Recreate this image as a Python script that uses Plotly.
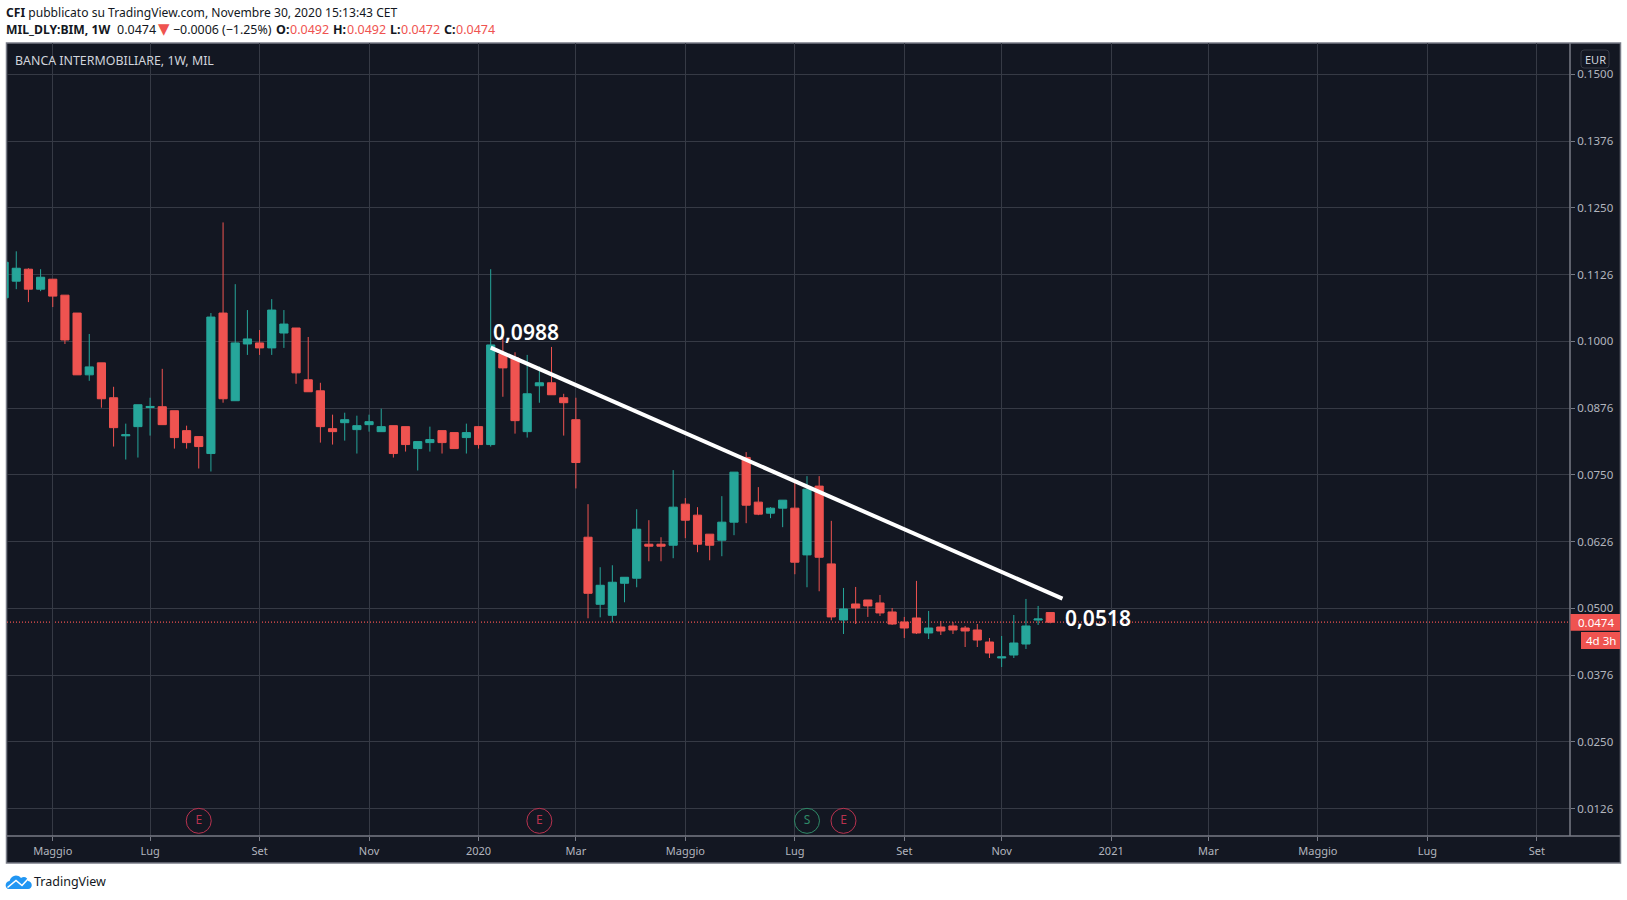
import pandas as pd
import plotly.graph_objects as go

# Weekly OHLC for Banca Intermobiliare (MIL)
DATES = pd.date_range("2019-04-08", periods=87, freq="7D")
OPEN = [.10815, .11126, .1135, .10976, .11163, .10864, .10529, .09372, .09596, .08943,
        .0823, .08402, .0876, .08775, .087, .08327, .08215, .07898, .10529, .08887,
        .0995, .09969, .09876, .10155, .10249, .09279, .09073, .08364, .08476, .08346,
        .08439, .08308, .0842, .08402, .07991, .08103, .08327, .0829, .08197, .08402,
        .08066, .09764, .09689, .08308, .09167, .09223, .08943, .08532, .06331, .05075,
        .04869, .05469, .05563, .0620, .0620, .06181, .0695, .06744, .06388, .06275,
        .06613, .07825, .06988, .06781, .06875, .06875, .06, .07288, .05831, .04781,
        .05081, .05156, .051, .04931, .04744, .04819, .04538, .0465, .04669, .04631,
        .04594, .04369, .0407, .04125, .04331, .0478, .0492]
HIGH = [.1148, .11685, .11368, .1135, .11163, .10864, .10529, .10137, .09596, .09148,
        .08458, .08812, .08943, .09484, .087, .0842, .08215, .10529, .12226, .1107,
        .10585, .10211, .1079, .10585, .10249, .10081, .09223, .08626, .08663, .08607,
        .08626, .08738, .0842, .08402, .08122, .08402, .08327, .0829, .08458, .08402,
        .1135, .10062, .09795, .09745, .09527, .09894, .09017, .08943, .0695, .05769,
        .05806, .05581, .06856, .0665, .06331, .07588, .07063, .06894, .06388, .071,
        .0755, .07925, .07269, .06894, .07025, .07356, .07475, .07475, .06638, .05381,
        .054, .05156, .0525, .05006, .04838, .05513, .0495, .04763, .04744, .04669,
        .04706, .04444, .04481, .04875, .05175, .05044, .0492]
LOW = [.10815, .10976, .10734, .10939, .10641, .0995, .09372, .0926, .08756, .08029,
       .07786, .07823, .08234, .08439, .07991, .07991, .07618, .07562, .0885, .08887,
       .09745, .09745, .09745, .09876, .09204, .09055, .08103, .08066, .0814, .07898,
       .08308, .08308, .07823, .07935, .07581, .07935, .07898, .07991, .07898, .07991,
       .08029, .08961, .08271, .08197, .0885, .08999, .08234, .07245, .04813, .04831,
       .04738, .05113, .05394, .05881, .05881, .05938, .06313, .0605, .059, .05975,
       .06369, .06594, .06744, .06688, .06519, .05638, .05394, .05319, .04775, .04519,
       .04706, .04838, .04856, .04688, .04444, .04519, .04425, .045, .04519, .04275,
       .04275, .04069, .039, .04069, .04238, .04688, .0472]
CLOSE = [.1148, .11368, .10976, .112, .10846, .10025, .09372, .09521, .08924, .08383,
         .0825, .08812, .0878, .08439, .08197, .08103, .08029, .10454, .08924, .09969,
         .10044, .09876, .10585, .10323, .09409, .09055, .08402, .08308, .08532, .0842,
         .08495, .08402, .07898, .08066, .08122, .08159, .08103, .07991, .0829, .08066,
         .09932, .09502, .08514, .09017, .09223, .08999, .0885, .0773, .05281, .05431,
         .05488, .05581, .06481, .06163, .06163, .06894, .0665, .062, .06181, .06613,
         .0755, .06931, .06763, .06875, .07025, .05863, .07231, .05956, .04838, .04988,
         .05006, .05044, .04913, .04706, .04631, .04538, .04631, .04575, .04594, .04575,
         .04406, .04163, .0409, .0435, .04669, .0480, .0474]

# Trend line, with the prices stated by its labels
TREND_DATES = ["2020-01-13", "2020-12-07"]
TREND_PRICES = [0.0988, 0.0518]
TREND_TEXT = ["0,0988", "0,0518"]

# Earnings and split/dividend flags along the foot of the pane
EARN_DATES = ["2019-07-29", "2020-02-10", "2020-08-03"]
SPLIT_DATES = ["2020-07-13"]
FLAG_PRICE = 0.0102

Y_TICKS = [.15, .1375, .125, .1125, .1, .0875, .075, .0625, .05, .0375, .025, .0125]
Y_LABELS = ["0.1500", "0.1376", "0.1250", "0.1126", "0.1000", "0.0876",
            "0.0750", "0.0626", "0.0500", "0.0376", "0.0250", "0.0126"]
X_TICKS = ["2019-05-06", "2019-07-01", "2019-09-02", "2019-11-04", "2020-01-06", "2020-03-02",
           "2020-05-04", "2020-07-06", "2020-09-07", "2020-11-02", "2021-01-04", "2021-03-01",
           "2021-05-03", "2021-07-05", "2021-09-06"]
X_LABELS = ["Maggio", "Lug", "Set", "Nov", "2020", "Mar", "Maggio", "Lug", "Set", "Nov",
            "2021", "Mar", "Maggio", "Lug", "Set"]

W, H = 1627, 900
ML, MR, MT, MB = 7, 57, 43, 64
BG, GRID, FRAME = "#131722", "#363a45", "#787b86"
UP, DOWN = "#26a69a", "#ef5350"
AXIS_TEXT, INK = "#b2b5be", "#131722"
FONT = "Noto Sans"


def fx(px):
    return (px - ML) / (W - ML - MR)


def fy(py):
    return 1 - (py - MT) / (H - MT - MB)


def week_px_range():
    # Visible time window: one week spans 12.165 px, first bar centred at x = 4.1
    day_ms = 86400000
    start = DATES[0]
    px_per_ms = 12.165 / (7 * day_ms)
    left = start + pd.Timedelta(milliseconds=(ML - 4.1) / px_per_ms)
    right = start + pd.Timedelta(milliseconds=(W - MR - 4.1) / px_per_ms)
    return [left, right]


def rect(x0, y0, x1, y1, fill, line=None, width=0, layer="above"):
    return dict(type="rect", xref="paper", yref="paper", x0=fx(x0), x1=fx(x1), y0=fy(y0), y1=fy(y1),
                fillcolor=fill, line=dict(color=line or fill, width=width), layer=layer)


def path(points, fill, line=None, width=0):
    return dict(type="path", xref="paper", yref="paper", path=points, fillcolor=fill,
                line=dict(color=line or "rgba(0,0,0,0)", width=width), layer="above")


def P(cmds):
    # Turns (cmd, x, y, ...) pixel tuples into an SVG path in paper fractions
    out = []
    for c in cmds:
        if isinstance(c, str):
            out.append(c)
        else:
            out.append(f"{c[0]}" + " ".join(f"{fx(c[i])},{fy(c[i + 1])}" for i in range(1, len(c), 2)))
    return " ".join(out)


def label(x, y, text, size=12, color=INK, anchor="left", family=FONT):
    return dict(xref="paper", yref="paper", x=fx(x), y=fy(y), text=text, showarrow=False,
                xanchor=anchor, yanchor="middle", align=anchor, borderpad=0, borderwidth=0,
                font=dict(family=family, size=size, color=color))


fig = go.Figure()

fig.add_trace(go.Candlestick(
    x=DATES, open=OPEN, high=HIGH, low=LOW, close=CLOSE, whiskerwidth=0,
    increasing=dict(line=dict(color=UP, width=1), fillcolor=UP),
    decreasing=dict(line=dict(color=DOWN, width=1), fillcolor=DOWN),
    hoverinfo="skip", showlegend=False))

fig.add_trace(go.Scatter(
    x=TREND_DATES, y=TREND_PRICES, mode="lines", line=dict(color="#ffffff", width=4),
    hoverinfo="skip", showlegend=False))

for dates, letter, stroke in ((EARN_DATES, "E", "#b8324f"), (SPLIT_DATES, "S", "#2f8a68")):
    fig.add_trace(go.Scatter(
        x=dates, y=[FLAG_PRICE] * len(dates), mode="markers+text", text=[letter] * len(dates),
        textposition="middle center", textfont=dict(family=FONT, size=12, color=stroke),
        marker=dict(symbol="circle-open", size=25, color=stroke, line=dict(color=stroke, width=1)),
        hoverinfo="skip", showlegend=False))

shapes = [
    # Pane, price scale and time scale share one framed dark panel
    rect(6.5, 43, 1620.5, 863, BG, FRAME, 1.5, "below"),
    dict(type="line", xref="paper", yref="y", x0=0, x1=1, y0=CLOSE[-1], y1=CLOSE[-1],
         line=dict(color=DOWN, width=1.2, dash="1px,2px"), layer="below"),
    dict(type="line", xref="paper", yref="paper", x0=1, x1=1, y0=0, y1=1, line=dict(color=FRAME, width=1.5)),
    dict(type="line", xref="paper", yref="paper", x0=fx(6.5), x1=fx(1620.5), y0=0, y1=0,
         line=dict(color=FRAME, width=1.5)),
    # Last-price tag and countdown tag on the price scale
    rect(1570.5, 614, 1620, 630.7, DOWN),
    rect(1581, 632, 1620, 649, DOWN),
    # Currency badge
    path(P([("M", 1584, 50), ("L", 1606, 50), ("Q", 1609, 50, 1609, 53), ("L", 1609, 65),
            ("Q", 1609, 68, 1606, 68), ("L", 1584, 68), ("Q", 1581, 68, 1581, 65), ("L", 1581, 53),
            ("Q", 1581, 50, 1584, 50), "Z"]), BG, GRID, 1),
    # TradingView cloud
    path(P([("M", 9, 889), ("C", 4.5, 889, 4.5, 881.5, 9.5, 881), ("C", 11, 875.5, 17, 873.5, 21, 878),
            ("C", 24, 875.5, 28, 877.5, 28, 881), ("C", 33, 881.5, 33, 889, 28, 889), "Z"]), "#2196f3"),
    path(P([("M", 7.5, 887.5), ("L", 16, 880.5), ("L", 22, 885.5), ("L", 28, 879)]),
         "rgba(0,0,0,0)", "#ffffff", 1.6),
]

annotations = [
    label(6, 12.5, "<b>CFI</b> pubblicato su TradingView.com, Novembre 30, 2020 15:13:43 CET", 12.1),
    label(6, 29.5, "<b>MIL_DLY:BIM, 1W</b>", 12.2),
    label(117, 29.5, "0.0474", 12.5),
    label(157.5, 29, "▼", 15, DOWN, family="DejaVu Sans"),
    label(173, 29.5, "−0.0006 (−1.25%)", 12.4),
    label(276, 29.5, "<b>O:</b>", 12.5),
    label(290, 29.5, "0.0492", 12.5, DOWN),
    label(333, 29.5, "<b>H:</b>", 12.5),
    label(347, 29.5, "0.0492", 12.5, DOWN),
    label(390, 29.5, "<b>L:</b>", 12.5),
    label(401, 29.5, "0.0472", 12.5, DOWN),
    label(444, 29.5, "<b>C:</b>", 12.5),
    label(456, 29.5, "0.0474", 12.5, DOWN),
    label(15, 60.5, "BANCA INTERMOBILIARE, 1W, MIL", 12.4, "#d1d4dc"),
    label(1595, 59.5, "EUR", 11, "#d1d4dc", "center"),
    label(1596, 622.5, "0.0474", 11.5, "#ffffff", "center"),
    label(1600.5, 640.5, "4d 3h", 11.5, "#ffffff", "center"),
    label(34, 881, "TradingView", 12.5),
]

# Price labels stand beside the two ends of the trend line
for date, price, text, xshift, yshift in zip(TREND_DATES, TREND_PRICES, TREND_TEXT, (0, 1), (16, -19)):
    annotations.append(dict(x=date, y=price, xref="x", yref="y", text=text, showarrow=False,
                            xanchor="left", yanchor="middle", xshift=xshift, yshift=yshift,
                            font=dict(family=FONT, size=21, color="#ffffff", weight=600)))

axis_common = dict(showgrid=True, gridcolor=GRID, gridwidth=1, zeroline=False, showline=False,
                   ticks="outside", ticklen=4, tickcolor=FRAME, tickwidth=1)

fig.update_layout(
    width=W, height=H, margin=dict(l=ML, r=MR, t=MT, b=MB, autoexpand=False),
    paper_bgcolor="#ffffff", plot_bgcolor=BG, showlegend=False, boxgap=0.33, boxgroupgap=0,
    hovermode=False,
    xaxis=dict(type="date", range=week_px_range(), rangeslider=dict(visible=False),
               tickmode="array", tickvals=X_TICKS, ticktext=X_LABELS, ticklabelstandoff=1,
               tickfont=dict(family=FONT, size=11, color=AXIS_TEXT), **axis_common),
    yaxis=dict(side="right", range=[0.00736, 0.15586],
               tickmode="array", tickvals=Y_TICKS, ticktext=Y_LABELS,
               tickfont=dict(family=FONT, size=11.5, color=AXIS_TEXT), **axis_common),
    shapes=shapes, annotations=annotations)

fig.write_html("out.html")
